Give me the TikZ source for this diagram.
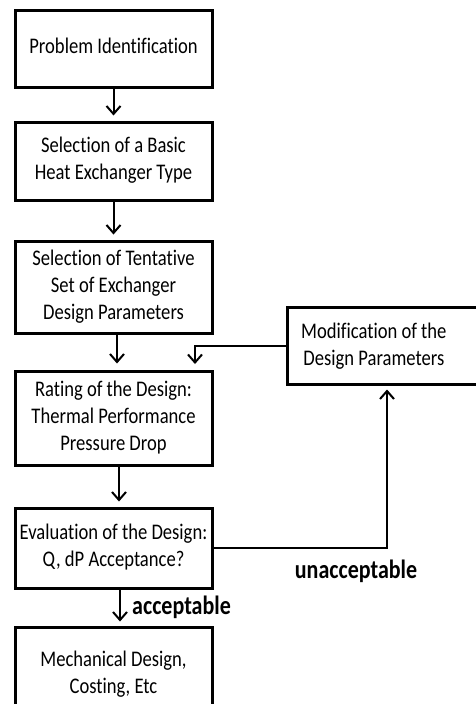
\documentclass[tikz,border=0pt]{standalone}
\usepackage{fontspec}
\setmainfont[Ligatures=NoCommon]{Carlito}
\usepackage{graphicx}
\usetikzlibrary{arrows.meta,calc}
\newcommand\vtext[1]{\scalebox{1}[1.2]{\begin{tabular}{@{}c@{}}#1\end{tabular}}}
\tikzset{
  box/.style={draw=black, line width=3pt, minimum width=197pt, inner sep=0pt,
    font=\fontsize{18.6}{22.5}\selectfont, align=center},
  arr/.style={line width=2pt, -{Straight Barb[length=8pt,width=14pt]}},
  lbl/.style={font=\fontsize{22}{26}\selectfont\bfseries, inner sep=0pt}
}
\begin{document}
\begin{tikzpicture}[x=1pt,y=-1pt]
\useasboundingbox (0,0) rectangle (476,704);
\clip (0,0) rectangle (476,704);
\fill[white] (0,0) rectangle (476,704);
\node[box, minimum height=77pt] (prob) at (113.5,48.5) {\vtext{Problem Identification}};
\node[box, minimum height=78pt] (sel) at (113.5,161) {\vtext{Selection of a Basic\\Heat Exchanger Type}};
\node[box, minimum height=92pt] (tent) at (113.5,287) {\vtext{Selection of Tentative\\Set of Exchanger\\Design Parameters}};
\node[box, minimum height=94pt] (rate) at (113.5,418) {\vtext{Rating of the Design:\\Thermal Performance\\Pressure Drop}};
\node[box, minimum height=80pt] (eval) at (113.5,548) {\vtext{Evaluation of the Design:\\Q, dP Acceptance?}};
\node[box, minimum height=96pt] (mech) at (113.5,675) {\vtext{Mechanical Design,\\Costing, Etc}};
\node[box, minimum width=200pt, minimum height=77pt] (mod) at (387,345.5) {};
\node[font=\fontsize{18.6}{22.5}\selectfont, anchor=west, inner sep=0pt] (modt) at (301,346.5) {\vtext{Modification of the\\Design Parameters}};
\coordinate (fb) at (195,364);
\draw[arr, shorten >=5pt] (prob.south) -- (sel.north);
\draw[arr, shorten >=5pt] (sel.south) -- (tent.north);
\draw[arr, shorten >=6pt] ($(tent.south)+(3.5,0)$) -- ($(rate.north)+(3.5,0)$);
\draw[arr, shorten >=5pt] ($(rate.south)+(5.5,0)$) -- ($(eval.north)+(5.5,0)$);
\draw[arr, shorten >=4pt] ($(eval.south)+(6.5,0)$) -- ($(mech.north)+(6.5,0)$);
\draw[arr] (mod.west) -| (fb);
\draw[arr, shorten >=4pt] (eval.east) -| (mod.south);
\node[lbl, anchor=west] (acc) at (132,607) {\scalebox{1}[1.2]{acceptable}};
\node[lbl] (unacc) at (356,571) {\scalebox{1}[1.2]{unacceptable}};
\end{tikzpicture}
\end{document}
